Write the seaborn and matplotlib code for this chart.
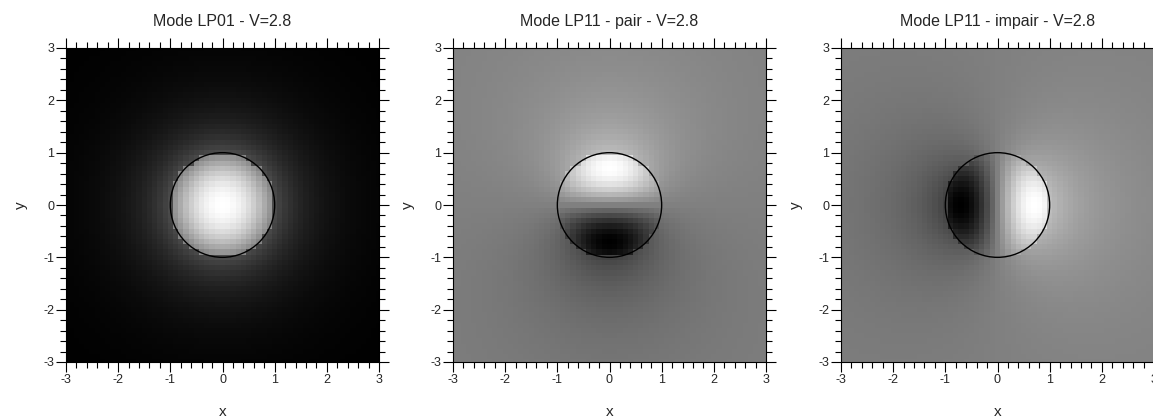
import numpy as np
import matplotlib
matplotlib.use("Agg")
import matplotlib.pyplot as plt
from matplotlib.patches import Circle
from matplotlib.ticker import MultipleLocator
import seaborn as sns

# panel description, values
V = 2.8
core_radius = 1.0
grid_min, grid_max, grid_points = -3.0, 3.0, 61
mode_orders = [0, 1, 1]
mode_angles = ["none", "y", "x"]      # angular factor of the field
core_u = [1.5, 2.6, 2.6]              # transverse constant in the core
clad_w = [1.1, 0.5, 0.5]              # decay constant in the cladding
edge_ratio = [0.58, 0.6, 0.6]         # cladding / core value at r = a
titles = ["Mode LP01 - V=2.8", "Mode LP11 - pair - V=2.8", "Mode LP11 - impair - V=2.8"]
tick_values = [-3, -2, -1, 0, 1, 2, 3]


def bessel_j(n, x):
    x = np.atleast_1d(np.asarray(x, dtype=float))
    tau = np.linspace(0, np.pi, 801)
    f = np.cos(n * tau - x[..., None] * np.sin(tau))
    return np.trapezoid(f, tau, axis=-1) / np.pi


def bessel_k(n, x):
    x = np.atleast_1d(np.asarray(x, dtype=float))
    t = np.linspace(0, 9, 1801)
    f = np.exp(-x[..., None] * np.cosh(t)) * np.cosh(n * t)
    return np.trapezoid(f, t, axis=-1)


def mode_field(i, xx, yy):
    l, u, w = mode_orders[i], core_u[i], clad_w[i]
    r = np.hypot(xx, yy) / core_radius
    field = np.empty_like(r)
    inside = r < 1
    ju = bessel_j(l, u)[0]
    field[inside] = bessel_j(l, u * r[inside]) / ju
    field[~inside] = edge_ratio[i] * bessel_k(l, w * r[~inside]) / bessel_k(l, w)[0]
    rs = np.where(r == 0, 1, r)
    if mode_angles[i] == "x":
        field = field * xx / rs
    elif mode_angles[i] == "y":
        field = field * yy / rs
    return field


coords = np.linspace(grid_min, grid_max, grid_points)
xx, yy = np.meshgrid(coords, coords)

sns.set_theme(style="ticks")
plt.rcParams["font.family"] = ["Liberation Sans", "DejaVu Sans"]
plt.rcParams["axes.unicode_minus"] = False

fig = plt.figure(figsize=(11.53, 4.2), dpi=100)
lefts = [66 / 1153, 453 / 1153, 841 / 1153]
for i in range(3):
    ax = fig.add_axes([lefts[i], 58 / 420, 313 / 1153, 314 / 420])
    field = mode_field(i, xx, yy)
    vmax = np.abs(field).max()
    vmin = 0 if mode_orders[i] == 0 else -vmax
    ax.pcolormesh(coords, coords, field, cmap="gray", shading="nearest",
                  vmin=vmin, vmax=vmax, rasterized=True)
    ax.add_patch(Circle((0, 0), core_radius, fill=False, color="black", lw=1.0))
    ax.set_xlim(grid_min, grid_max)
    ax.set_ylim(grid_min, grid_max)
    ax.set_xticks(tick_values)
    ax.set_yticks(tick_values)
    ax.set_xticklabels([str(t) for t in tick_values])
    ax.set_yticklabels([str(t) for t in tick_values])
    ax.xaxis.set_minor_locator(MultipleLocator(0.2))
    ax.yaxis.set_minor_locator(MultipleLocator(0.2))
    ax.tick_params(which="both", direction="out", top=True, right=True,
                   width=0.8, color="black", labelsize=9, pad=1.5)
    ax.tick_params(which="major", length=7)
    ax.tick_params(which="minor", length=4)
    for s in ax.spines.values():
        s.set_color("black")
        s.set_linewidth(0.8)
    ax.set_title(titles[i], fontsize=11.5, pad=16)
    ax.set_xlabel("x", fontsize=11, labelpad=14)
    ax.set_ylabel("y", fontsize=11, labelpad=11)

fig.savefig("out.png", dpi=100, facecolor="white")
